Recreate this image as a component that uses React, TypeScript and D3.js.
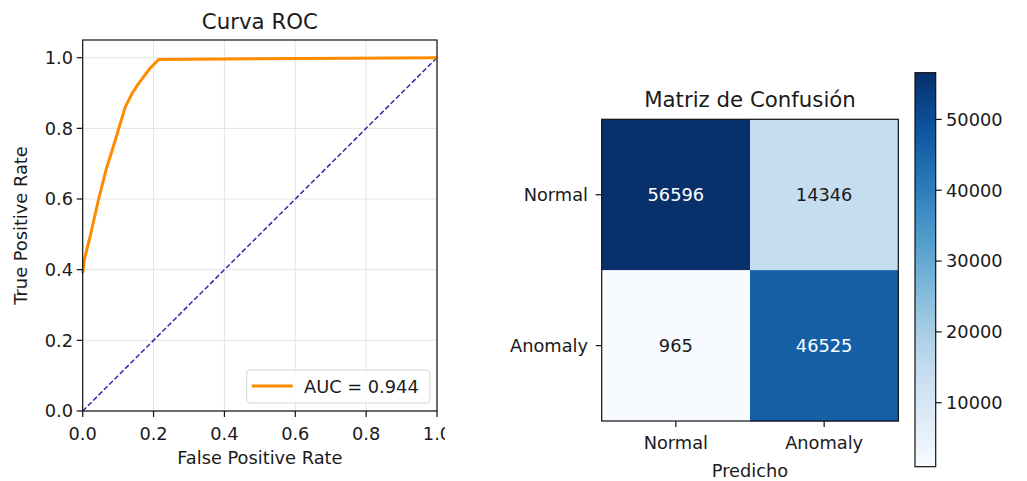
import React from 'react';
import * as d3 from 'd3';

// ROC curve values
const fpr = [0, 0.005, 0.02, 0.045, 0.068, 0.09, 0.12, 0.14, 0.16, 0.19, 0.215, 1.0];
const tpr = [0.39, 0.43, 0.49, 0.6, 0.69, 0.76, 0.86, 0.9, 0.93, 0.97, 0.995, 1.0];
const diagX = [0, 1];
const diagY = [0, 1];
const aucLabel = 'AUC = 0.944';
const rocTicks = [0, 0.2, 0.4, 0.6, 0.8, 1.0];

// confusion matrix
const classes = ['Normal', 'Anomaly'];
const rowNormal = [56596, 14346];
const rowAnomaly = [965, 46525];
const cbTicks = [10000, 20000, 30000, 40000, 50000];

const FONT = '"DejaVu Sans", sans-serif';
const TXT = '#1a1a1a';
const FS = 17.8;
const TFS = 21.3;

function RocPanel() {
  const x = d3.scaleLinear().domain([0, 1]).range([82.7, 437]);
  const y = d3.scaleLinear().domain([0, 1.05]).range([411, 40]);
  const [x0, x1] = x.range();
  const [y0, y1] = y.range();
  const line = d3.line<number>().x((_, i) => x(fpr[i])).y(d => y(d));
  const diag = d3.line<number>().x((_, i) => x(diagX[i])).y(d => y(d));
  const fmt = d3.format('.1f');

  return (
    <g clipPath="url(#rocClip)">
      {rocTicks.map(t => (
        <g key={'g' + t}>
          <line x1={x(t)} x2={x(t)} y1={y1} y2={y0} stroke="#e4e4e4" strokeWidth={1} />
          <line x1={x0} x2={x1} y1={y(t)} y2={y(t)} stroke="#e4e4e4" strokeWidth={1} />
        </g>
      ))}
      <path d={diag(diagY) || ''} fill="none" stroke="#2b2ba6" strokeWidth={1.5} strokeDasharray="5,2.5" />
      <path d={line(tpr) || ''} fill="none" stroke="#ff8c00" strokeWidth={3} strokeLinejoin="round" />
      <rect x={x0} y={y1} width={x1 - x0} height={y0 - y1} fill="none" stroke="#111" strokeWidth={1.2} />
      {rocTicks.map(t => (
        <g key={'x' + t}>
          <line x1={x(t)} x2={x(t)} y1={y0} y2={y0 + 6} stroke="#111" strokeWidth={1.2} />
          <text x={x(t)} y={439.5} textAnchor="middle" fontSize={FS} fill={TXT}>{fmt(t)}</text>
        </g>
      ))}
      {rocTicks.map(t => (
        <g key={'y' + t}>
          <line x1={x0 - 6} x2={x0} y1={y(t)} y2={y(t)} stroke="#111" strokeWidth={1.2} />
          <text x={73} y={y(t)} dy="0.36em" textAnchor="end" fontSize={FS} fill={TXT}>{fmt(t)}</text>
        </g>
      ))}
      <text x={(x0 + x1) / 2} y={29} textAnchor="middle" fontSize={TFS} fill={TXT}>Curva ROC</text>
      <text x={(x0 + x1) / 2} y={464} textAnchor="middle" fontSize={FS} fill={TXT}>False Positive Rate</text>
      <text transform={`translate(27,${(y0 + y1) / 2}) rotate(-90)`} textAnchor="middle" fontSize={FS} fill={TXT}>True Positive Rate</text>
      <g>
        <rect x={246.7} y={370} width={183.3} height={33} rx={3} fill="#fff" fillOpacity={0.85} stroke="#d6d6d6" strokeWidth={1} />
        <line x1={251.7} x2={292.7} y1={386} y2={386} stroke="#ff8c00" strokeWidth={3} />
        <text x={304} y={392.5} fontSize={FS} fill={TXT}>{aucLabel}</text>
      </g>
    </g>
  );
}

function ConfusionPanel() {
  const matrix = [rowNormal, rowAnomaly];
  const all = matrix.flat();
  const vmin = d3.min(all) as number;
  const vmax = d3.max(all) as number;
  const color = d3.scaleSequential(d3.interpolateBlues).domain([vmin, vmax]);
  const cx = d3.scaleBand<string>().domain(classes).range([601.7, 898.3]);
  const cy = d3.scaleBand<string>().domain(classes).range([119.3, 421]);
  const thresh = vmax / 2;
  const cb = d3.scaleLinear().domain([vmin, vmax]).range([466.7, 72.7]);
  const stops = d3.range(0, 1.0001, 0.05);
  const cbX0 = 915, cbX1 = 935.7;
  const [mx0, mx1] = cx.range();
  const [my0, my1] = cy.range();

  return (
    <g>
      <defs>
        <linearGradient id="cbGrad" x1="0" y1="1" x2="0" y2="0">
          {stops.map(s => (
            <stop key={s} offset={s} stopColor={d3.interpolateBlues(s)} />
          ))}
        </linearGradient>
      </defs>
      {matrix.map((row, i) =>
        row.map((v, j) => (
          <g key={i + '-' + j}>
            <rect x={cx(classes[j])} y={cy(classes[i])} width={cx.bandwidth() + 0.5} height={cy.bandwidth() + 0.5} fill={color(v)} />
            <text
              x={(cx(classes[j]) as number) + cx.bandwidth() / 2}
              y={(cy(classes[i]) as number) + cy.bandwidth() / 2}
              dy="0.36em" textAnchor="middle" fontSize={FS}
              fill={v > thresh ? '#ffffff' : TXT}
            >{v}</text>
          </g>
        ))
      )}
      <rect x={mx0} y={my0} width={mx1 - mx0} height={my1 - my0} fill="none" stroke="#111" strokeWidth={1.2} />
      {classes.map(c => (
        <g key={'cy' + c}>
          <line x1={mx0 - 6} x2={mx0} y1={(cy(c) as number) + cy.bandwidth() / 2} y2={(cy(c) as number) + cy.bandwidth() / 2} stroke="#111" strokeWidth={1.2} />
          <text x={588} y={(cy(c) as number) + cy.bandwidth() / 2} dy="0.36em" textAnchor="end" fontSize={FS} fill={TXT}>{c}</text>
        </g>
      ))}
      {classes.map(c => (
        <g key={'cx' + c}>
          <line x1={(cx(c) as number) + cx.bandwidth() / 2} x2={(cx(c) as number) + cx.bandwidth() / 2} y1={my1} y2={my1 + 6} stroke="#111" strokeWidth={1.2} />
          <text x={(cx(c) as number) + cx.bandwidth() / 2} y={449} textAnchor="middle" fontSize={FS} fill={TXT}>{c}</text>
        </g>
      ))}
      <text x={(mx0 + mx1) / 2} y={106.5} textAnchor="middle" fontSize={TFS} fill={TXT}>Matriz de Confusión</text>
      <text x={(mx0 + mx1) / 2} y={477} textAnchor="middle" fontSize={FS} fill={TXT}>Predicho</text>
      <rect x={cbX0} y={cb.range()[1]} width={cbX1 - cbX0} height={cb.range()[0] - cb.range()[1]} fill="url(#cbGrad)" stroke="#111" strokeWidth={1.2} />
      {cbTicks.map(t => (
        <g key={'cb' + t}>
          <line x1={cbX1} x2={cbX1 + 6} y1={cb(t)} y2={cb(t)} stroke="#111" strokeWidth={1.2} />
          <text x={946} y={cb(t)} dy="0.36em" fontSize={FS} fill={TXT}>{t}</text>
        </g>
      ))}
    </g>
  );
}

export default function App() {
  return (
    <svg
      width={1027}
      height={481}
      style={{ position: 'absolute', left: 0, top: 0, background: '#fff' }}
      fontFamily={FONT}
    >
      <defs>
        <clipPath id="rocClip">
          <rect x={0} y={0} width={445} height={481} />
        </clipPath>
      </defs>
      <rect width={1027} height={481} fill="#fff" />
      <RocPanel />
      <ConfusionPanel />
    </svg>
  );
}
